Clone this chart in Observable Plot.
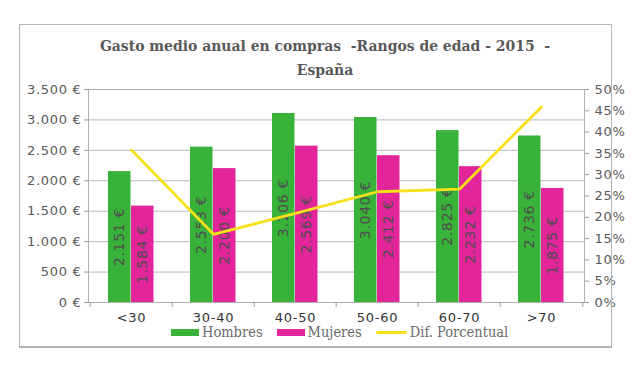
<!DOCTYPE html>
<html><head><meta charset="utf-8">
<script src="https://cdn.jsdelivr.net/npm/d3@7"></script>
<script src="https://cdn.jsdelivr.net/npm/@observablehq/plot@0.6"></script>
<style>
body{margin:0;background:#fff;}
#wrap{position:relative;width:640px;height:366px;overflow:hidden;}
#border{position:absolute;left:19px;top:24px;width:591px;height:321px;border:1px solid #b5b5b5;border-bottom:2px solid #b5b5b5;pointer-events:none;}
#title{position:absolute;left:19px;width:612px;top:34px;text-align:center;font:bold 15.5px "DejaVu Serif Condensed","DejaVu Serif",serif;color:#595959;line-height:24px;}
#legend{position:absolute;left:171px;top:324px;font:14.5px "DejaVu Serif Condensed","DejaVu Serif",serif;color:#6a6a6a;display:flex;align-items:center;white-space:nowrap;}
.sw{display:inline-block;width:28px;height:7px;margin-right:3px;}
.ln{display:inline-block;width:31px;height:3px;border-radius:2px;margin-right:3px;}
.lab{margin-right:14px;}
#chart{position:absolute;left:0;top:0;}
#chart svg text{letter-spacing:0.7px;}
</style></head>
<body><div id="wrap"><div id="chart"></div><div id="border"></div>
<div id="title">Gasto medio anual en compras &nbsp;-Rangos de edad - 2015 &nbsp;-<br>España</div>
<div id="legend"></div></div>
<script>
const categories = ["<30","30-40","40-50","50-60","60-70",">70"];
const hombres = [2151,2553,3106,3040,2825,2736];
const mujeres = [1584,2200,2569,2412,2232,1875];
const difPct = [35.8,16.0,20.9,26.0,26.6,45.9];
const euroTicks = [0,500,1000,1500,2000,2500,3000,3500];
const pctTicks = [0,5,10,15,20,25,30,35,40,45,50];
const seriesNames = ["Hombres","Mujeres","Dif. Porcentual"];
const colors = {Hombres:"#38b238", Mujeres:"#e2269a", line:"#f7e11b"};

const maxEuro = 3500, maxPct = 50;
const pctToY = p => p * maxEuro / maxPct;

const rows = categories.map((c,i)=>({cat:c, h:hombres[i], m:mujeres[i], pct:difPct[i]}));
const fmtEuro = d => d3.format(",")(d).replace(/,/g,".") + " €";

const W = 640, mL = 88, mR = 56;
const bw = (W - mL - mR) / categories.length;

const chart = Plot.plot({
  width: W, height: 366,
  marginLeft: mL, marginRight: mR, marginTop: 89, marginBottom: 64,
  style: {background:"none", fontFamily:"DejaVu Sans, sans-serif", fontSize:"13px", color:"#595959"},
  x: {domain: categories, padding: 0, axis: null, label: null},
  y: {domain: [0, maxEuro], axis: null, label: null},
  marks: [
    Plot.gridY(euroTicks, {stroke:"#b8b8b8", strokeOpacity:1}),
    Plot.barY(rows, {x:"cat", y:"h", fill:colors.Hombres, insetLeft:18, insetRight:41.5}),
    Plot.barY(rows, {x:"cat", y:"m", fill:colors.Mujeres, insetLeft:41, insetRight:18.5}),
    Plot.text(rows, {x:"cat", y:d=>d.h/2, text:d=>fmtEuro(d.h), rotate:-90, dx:-11.5, fill:"#4d4d4d", fontSize:14}),
    Plot.text(rows, {x:"cat", y:d=>d.m/2, text:d=>fmtEuro(d.m), rotate:-90, dx:11.5, fill:"#4d4d4d", fontSize:14}),
    Plot.line(rows, {x:"cat", y:d=>pctToY(d.pct), stroke:colors.line, strokeWidth:2.8}),
    Plot.frame({stroke:"#b0b0b0"}),
    Plot.axisY(euroTicks, {anchor:"left", label:null, tickFormat:fmtEuro, tickSize:4, tickPadding:3, stroke:"#999", fill:"#595959"}),
    Plot.axisY(pctTicks.map(pctToY), {anchor:"right", label:null, tickFormat:d=>Math.round(d*maxPct/maxEuro)+"%", tickSize:4, tickPadding:6, stroke:"#999", fill:"#595959"}),
    Plot.axisX({anchor:"bottom", label:null, tickSize:0, tickPadding:10, fill:"#333"}),
    Plot.ruleX(categories, {x:d=>d, dx:-bw/2, y1:0, y2:0, insetBottom:-5, stroke:"#999"}),
    Plot.ruleX(categories.slice(-1), {x:d=>d, dx:bw/2, y1:0, y2:0, insetBottom:-5, stroke:"#999"})
  ]
});
document.getElementById("chart").appendChild(chart);

const lg = document.getElementById("legend");
lg.innerHTML =
  `<span class="sw" style="background:${colors.Hombres}"></span><span class="lab">${seriesNames[0]}</span>` +
  `<span class="sw" style="background:${colors.Mujeres}"></span><span class="lab">${seriesNames[1]}</span>` +
  `<span class="ln" style="background:${colors.line}"></span><span>${seriesNames[2]}</span>`;
</script></body></html>
